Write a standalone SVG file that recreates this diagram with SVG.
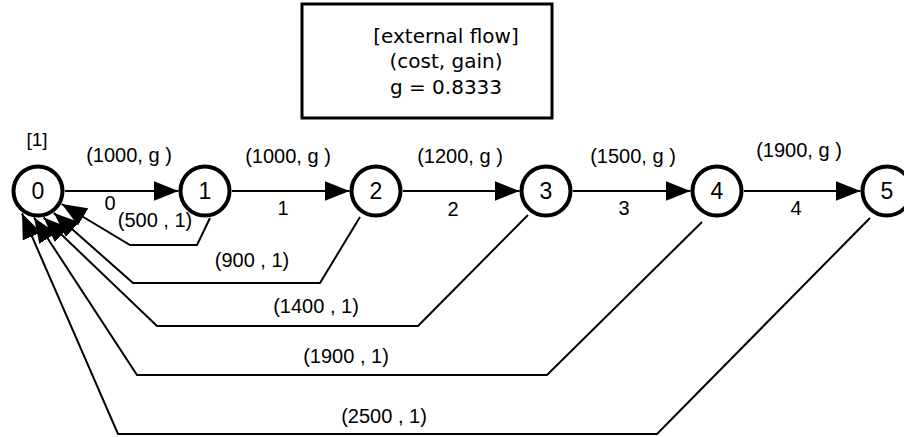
<svg xmlns="http://www.w3.org/2000/svg" width="904" height="437" viewBox="0 0 904 437">
  <style>
    .node circle { fill: #fff; stroke: #000; stroke-width: 4; }
    .node text { font-family: "Liberation Sans", Arial, sans-serif; font-size: 23px; text-anchor: middle; fill: #000; }
    .edge { fill: none; stroke: #000; stroke-width: 2; }
    .lbl { font-family: "Liberation Sans", Arial, sans-serif; font-size: 20px; text-anchor: middle; fill: #000; }
    .legend rect { fill: #fff; stroke: #000; stroke-width: 3; }
    .legend text { font-family: "DejaVu Sans", Verdana, sans-serif; font-size: 20px; text-anchor: middle; fill: #000; }
  </style>
  <defs>
    <marker id="arrow" markerUnits="userSpaceOnUse" markerWidth="26" markerHeight="20" refX="25" refY="10" orient="auto" viewBox="0 0 26 20">
      <path d="M0,0 L25,10 L0,20 z" fill="#000"/>
    </marker>
  </defs>

  <!-- legend box -->
  <g id="legend" class="legend">
    <rect x="302" y="4" width="250" height="114"/>
    <text x="446" y="43">[external flow]</text>
    <text x="446" y="68">(cost, gain)</text>
    <text x="446" y="94">g = 0.8333</text>
  </g>

  <!-- connectors -->
  <g id="connectors">
    <!-- forward arcs i -> i+1 -->
    <path class="edge" d="M65,191 H178.5" marker-end="url(#arrow)"/>
    <path class="edge" d="M232,191 H349.5" marker-end="url(#arrow)"/>
    <path class="edge" d="M403,191 H519.5" marker-end="url(#arrow)"/>
    <path class="edge" d="M573,191 H690.5" marker-end="url(#arrow)"/>
    <path class="edge" d="M744,191 H860.5" marker-end="url(#arrow)"/>
    <!-- return arcs k -> 0 -->
    <path class="edge" d="M210,218 L197,245 H130 L61.7,204" marker-end="url(#arrow)"/>
    <path class="edge" d="M360,217 L320,283 H133 L53.9,213" marker-end="url(#arrow)"/>
    <path class="edge" d="M528,215 L418,326 H157 L43.6,217.5" marker-end="url(#arrow)"/>
    <path class="edge" d="M702,222 L547,375 H137 L34,217.5" marker-end="url(#arrow)"/>
    <path class="edge" d="M870,218 L657,434 H118 L22,213.5" marker-end="url(#arrow)"/>

    <!-- arc labels -->
    <text class="lbl" x="129" y="162">(1000, g )</text>
    <text class="lbl" x="288" y="163">(1000, g )</text>
    <text class="lbl" x="460" y="163">(1200, g )</text>
    <text class="lbl" x="633" y="163">(1500, g )</text>
    <text class="lbl" x="799" y="157">(1900, g )</text>
    <text class="lbl" x="110" y="210">0</text>
    <text class="lbl" x="283" y="215">1</text>
    <text class="lbl" x="453" y="216">2</text>
    <text class="lbl" x="624" y="215">3</text>
    <text class="lbl" x="796" y="215">4</text>
    <text class="lbl" x="155" y="227">(500 , 1)</text>
    <text class="lbl" x="252" y="267">(900 , 1)</text>
    <text class="lbl" x="316" y="313">(1400 , 1)</text>
    <text class="lbl" x="346" y="363">(1900 , 1)</text>
    <text class="lbl" x="384" y="423">(2500 , 1)</text>
  </g>

  <!-- nodes -->
  <g id="node0" class="node">
    <circle cx="38" cy="191" r="24.5"/>
    <text x="38" y="199">0</text>
    <text class="lbl" x="37" y="146" style="font-size:19px">[1]</text>
  </g>
  <g id="node1" class="node">
    <circle cx="205" cy="191" r="24.5"/>
    <text x="205" y="199">1</text>
  </g>
  <g id="node2" class="node">
    <circle cx="376" cy="191" r="24.5"/>
    <text x="376" y="199">2</text>
  </g>
  <g id="node3" class="node">
    <circle cx="546" cy="191" r="24.5"/>
    <text x="546" y="199">3</text>
  </g>
  <g id="node4" class="node">
    <circle cx="717" cy="191" r="24.5"/>
    <text x="717" y="199">4</text>
  </g>
  <g id="node5" class="node">
    <circle cx="887" cy="191" r="24.5"/>
    <text x="887" y="199">5</text>
  </g>
</svg>
